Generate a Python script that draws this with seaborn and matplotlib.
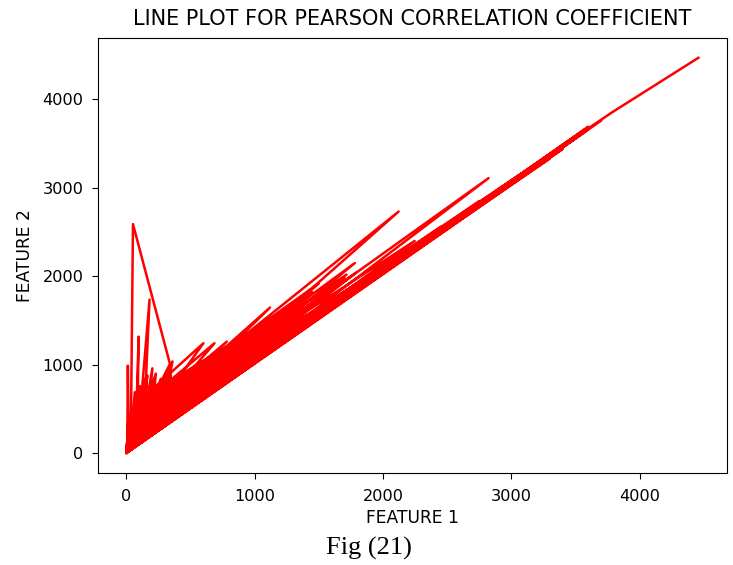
import matplotlib
matplotlib.use("Agg")
import matplotlib.pyplot as plt
import pandas as pd
import seaborn as sns

# Paired observations, kept in recorded (unsorted) order
feature_1 = [
    0, 4, 1, 9, 3, 14, 6, 1, 18, 12,
    8, 24, 30, 19, 36, 52, 340, 62, 41, 72,
    96, 86, 112, 91, 181, 143, 163, 122, 203, 171,
    222, 152, 246, 131, 268, 188, 296, 210, 320, 240,
    348, 260, 300, 275, 260, 2122, 30, 55, 20, 200,
    2823, 15, 75, 44, 150, 2247, 80, 66, 35, 120,
    1781, 40, 105, 58, 100, 1884, 20, 128, 90, 1789,
    60, 145, 45, 1120, 70, 190, 180, 783, 200, 230,
    160, 687, 130, 250, 140, 601, 110, 360, 285, 498,
    240, 10, 5, 38, 50, 3232, 20, 95,
    80, 2950, 12, 56, 30, 3400, 8, 110, 60, 3600,
    25, 170, 100, 2600, 40, 85, 70, 2400, 10, 135,
    90, 2000, 35, 50, 1500, 15, 175, 120, 1300, 60,
    210, 130, 1000, 90, 30, 900, 45, 80, 1716, 100,
    225, 150, 3100, 5, 200, 3700, 18, 115, 60, 2700,
    70, 40, 2800, 25, 170, 1400, 140, 220, 1200, 100,
    310, 160, 330, 250, 2,
    60, 1600, 150, 1450, 30, 1350, 210, 1250, 100, 1150,
    170, 1050, 80, 950, 260, 850, 40, 750, 190, 700,
    120, 650, 280, 550, 230, 500, 300, 450, 15, 2100,
    140, 2200, 65, 1900, 110, 1800, 25, 1700, 200, 1650,
    85, 1550, 35, 2300, 95, 2500, 20, 3000, 75, 3300,
    160, 2750, 90, 3150, 180, 2450, 60, 3600, 110,
    45, 3500, 130, 3790, 4458,
]
feature_2 = [
    0, 55, 12, 170, 28, 340, 75, 6, 265, 990,
    150, 95, 430, 62, 310, 2590, 1010, 205, 480, 140,
    1318, 300, 610, 180, 1737, 520, 880, 262, 960, 420,
    780, 300, 700, 190, 840, 350, 760, 260, 900, 330,
    880, 300, 620, 330, 560, 2732, 45, 380, 110, 390,
    3110, 25, 540, 130, 420, 2400, 120, 690, 90, 380,
    2150, 70, 760, 150, 300, 1990, 30, 650, 330, 2040,
    90, 840, 260, 1647, 160, 720, 520, 1262, 420, 900,
    600, 1244, 300, 640, 640, 1244, 250, 1038, 500, 833,
    400, 12, 5, 210, 120, 3300, 40, 470,
    150, 3010, 20, 330, 60, 3440, 10, 560, 140, 3660,
    35, 620, 200, 2680, 55, 390, 180, 2480, 15, 700,
    250, 2120, 60, 420, 1920, 30, 560, 480, 1700, 100,
    640, 450, 1380, 200, 350, 1250, 90, 400, 2020, 150,
    520, 350, 3160, 8, 300, 3760, 22, 420, 200, 2760,
    90, 150, 2850, 30, 400, 1700, 200, 450, 1500, 130,
    700, 250, 560, 290, 4,
    480, 1700, 560, 1820, 200, 1500, 700, 1620, 380, 1330,
    650, 1420, 260, 1100, 620, 1200, 130, 1000, 540, 1100,
    560, 880, 460, 900, 380, 700, 680, 800, 50, 2200,
    380, 2260, 110, 2000, 320, 1850, 70, 1980, 600, 1760,
    240, 1600, 40, 2360, 210, 2540, 25, 3040, 130, 3330,
    300, 2850, 120, 3230, 330, 2560, 90, 3690, 150,
    70, 3560, 270, 3858, 4470,
]

df = pd.DataFrame({"FEATURE 1": feature_1, "FEATURE 2": feature_2})

fig = plt.figure(figsize=(7.33, 5.65), dpi=100)
ax = fig.add_axes([0.1333, 0.1628, 0.8585, 0.7699])

sns.lineplot(data=df, x="FEATURE 1", y="FEATURE 2", sort=False,
             estimator=None, color="red", linewidth=1.8, ax=ax)

ax.set_title("LINE PLOT FOR PEARSON CORRELATION COEFFICIENT",
             fontsize=15, pad=9.5)
ax.set_xlabel("FEATURE 1", fontsize=12.3, labelpad=4)
ax.set_ylabel("FEATURE 2", fontsize=12.3, labelpad=6)
ax.tick_params(labelsize=11.6, length=4.3)
ax.tick_params(axis="x", pad=7)
ax.tick_params(axis="y", pad=6)
ax.set_xticks([0, 1000, 2000, 3000, 4000])
ax.set_yticks([0, 1000, 2000, 3000, 4000])

fig.text(0.5027, 1 - 548 / 565, "Fig (21)", ha="center", va="center",
         fontsize=19, family="Liberation Serif")

fig.savefig("out.png", dpi=100)
